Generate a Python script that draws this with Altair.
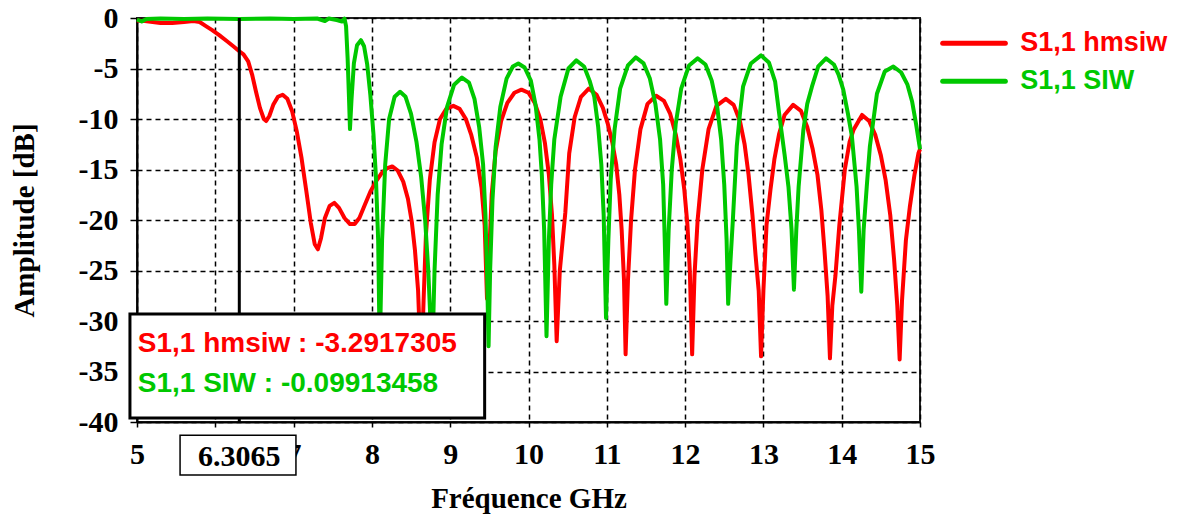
import altair as alt
import pandas as pd

SERIES = ["S1,1 hmsiw", "S1,1 SIW"]
COLORS = ["#ff0000", "#00c800"]

X_TICKS = [5, 6, 7, 8, 9, 10, 11, 12, 13, 14, 15]
Y_TICKS = [0, -5, -10, -15, -20, -25, -30, -35, -40]

# S1,1 hmsiw (red)
HMSIW_F = [5.00, 5.10, 5.20, 5.30, 5.45, 5.60, 5.72, 5.80, 5.88, 5.96, 6.05, 6.15, 6.23, 6.3065,
           6.36, 6.42, 6.47, 6.52, 6.57, 6.62, 6.65, 6.69, 6.74, 6.80, 6.86, 6.92, 6.98, 7.04,
           7.10, 7.16, 7.22, 7.27, 7.31, 7.35, 7.40, 7.46, 7.52, 7.58, 7.65, 7.72, 7.78, 7.84,
           7.91, 7.98, 8.05, 8.12, 8.19, 8.26, 8.33, 8.40, 8.46, 8.51, 8.55, 8.59, 8.63, 8.66,
           8.69, 8.74, 8.80, 8.87, 8.95, 9.04, 9.12, 9.20, 9.27, 9.34, 9.40, 9.44, 9.47, 9.50,
           9.53, 9.58, 9.65, 9.73, 9.82, 9.91, 10.00, 10.08, 10.15, 10.21, 10.26, 10.30, 10.33,
           10.36, 10.40, 10.47, 10.52, 10.59, 10.67, 10.77, 10.87, 10.95, 11.01, 11.07, 11.12,
           11.16, 11.19, 11.22, 11.24, 11.27, 11.31, 11.36, 11.43, 11.52, 11.63, 11.73, 11.81,
           11.88, 11.94, 11.99, 12.03, 12.06, 12.09, 12.12, 12.16, 12.22, 12.30, 12.40, 12.52,
           12.62, 12.70, 12.76, 12.81, 12.86, 12.90, 12.94, 12.97, 13.00, 13.04, 13.09, 13.14,
           13.20, 13.27, 13.38, 13.48, 13.56, 13.63, 13.69, 13.74, 13.78, 13.82, 13.85, 13.88,
           13.92, 13.97, 14.04, 14.10, 14.15, 14.26, 14.35, 14.43, 14.50, 14.56, 14.62, 14.67,
           14.71, 14.74, 14.77, 14.82, 14.87, 14.93, 14.98, 15.00]
HMSIW_DB = [-0.25, -0.3, -0.4, -0.5, -0.5, -0.4, -0.3, -0.4, -0.8, -1.2, -1.7, -2.3, -2.8, -3.29,
            -3.6, -4.3, -5.6, -7.3, -8.9, -10.0, -10.2, -9.7, -8.6, -7.8, -7.6, -8.0, -9.2, -11.2,
            -13.8, -17.0, -20.3, -22.4, -22.9, -21.8, -19.8, -18.6, -18.3, -18.8, -19.8, -20.4, -20.4, -19.8,
            -18.5, -17.2, -16.2, -15.4, -14.9, -14.7, -15.1, -16.2, -17.9, -20.2, -23.0, -27.0, -35.5, -28.0,
            -21.5, -16.0, -12.3, -10.0, -9.0, -8.7, -9.0, -10.0, -11.6, -13.8, -16.8, -20.5, -27.8, -23.0,
            -17.5, -13.2, -10.2, -8.4, -7.4, -7.1, -7.4, -8.4, -10.0, -12.4, -15.5, -19.5, -24.5,
            -32.0, -25.0, -19.3, -13.4, -9.8, -7.8, -7.0, -7.6, -8.9, -10.4, -12.3, -14.5,
            -17.5, -21.0, -26.0, -33.3, -26.0, -20.0, -15.0, -11.0, -8.5, -7.7, -8.2, -9.5,
            -11.5, -14.0, -17.0, -20.5, -25.0, -33.3, -25.5, -20.0, -15.0, -11.0, -8.7, -8.0,
            -8.6, -10.2, -12.5, -15.5, -19.5, -23.5, -27.0, -33.5, -27.0, -20.5, -17.0, -14.0,
            -11.5, -9.6, -8.6, -9.2, -10.8, -13.0, -15.5, -19.0, -23.0, -27.5, -33.7, -28.5,
            -25.5, -20.5, -15.0, -12.3, -11.1, -9.6, -10.2, -11.6, -13.6, -16.0, -19.5, -24.0,
            -28.5, -33.8, -28.0, -22.0, -18.7, -15.5, -13.4, -13.0]

# S1,1 SIW (green)
SIW_F = [5.00, 5.06, 5.12, 5.30, 5.60, 5.90, 6.3065, 6.70, 7.00, 7.30, 7.40, 7.45, 7.55, 7.62,
         7.65, 7.67, 7.69, 7.71, 7.72, 7.74, 7.77, 7.81, 7.86, 7.90, 7.94, 7.98, 8.02, 8.05,
         8.08, 8.10, 8.13, 8.17, 8.22, 8.29, 8.36, 8.43, 8.50, 8.57, 8.63, 8.68, 8.72, 8.77,
         8.80, 8.84, 8.89, 8.96, 9.05, 9.15, 9.24, 9.31, 9.37, 9.42, 9.45, 9.47, 9.49, 9.51,
         9.54, 9.58, 9.64, 9.72, 9.80, 9.87, 9.95, 10.03, 10.09, 10.14, 10.17, 10.20, 10.23,
         10.26, 10.29, 10.33, 10.41, 10.51, 10.61, 10.71, 10.78, 10.84, 10.89, 10.93, 10.96,
         10.99, 11.02, 11.05, 11.10, 11.17, 11.27, 11.37, 11.47, 11.55, 11.62, 11.68, 11.72,
         11.74, 11.76, 11.79, 11.83, 11.88, 11.95, 12.05, 12.16, 12.26, 12.34, 12.41, 12.46,
         12.50, 12.53, 12.55, 12.58, 12.61, 12.66, 12.70, 12.74, 12.84, 12.97, 13.07, 13.15,
         13.21, 13.27, 13.32, 13.36, 13.39, 13.42, 13.45, 13.51, 13.56, 13.62, 13.70, 13.80,
         13.90, 13.96, 14.02, 14.08, 14.13, 14.19, 14.22, 14.25, 14.28, 14.32, 14.36, 14.45,
         14.55, 14.66, 14.76, 14.84, 14.90, 14.95, 15.00]
SIW_DB = [-0.15, -0.35, -0.1, -0.05, -0.1, -0.05, -0.1, -0.05, -0.1, -0.05, -0.3, -0.05, -0.2, -0.35,
          -0.05, -0.8, -4.0, -8.5, -11.0, -8.0, -4.5, -2.7, -2.2, -2.8, -4.6, -7.6, -11.5, -15.5,
          -22.0, -33.0, -22.0, -14.5, -10.0, -7.8, -7.3, -7.8, -9.5, -12.3, -15.8, -20.0, -25.0, -34.0,
          -25.0, -17.5, -12.5, -8.8, -6.6, -5.9, -6.4, -8.0, -10.8, -14.5, -19.5, -25.0, -32.5, -25.0,
          -18.0, -12.8, -8.8, -6.0, -4.8, -4.5, -4.9, -6.2, -8.6, -12.0, -15.5, -21.0, -31.5,
          -22.0, -16.5, -12.0, -7.8, -5.0, -4.2, -4.8, -6.2, -7.8, -10.8, -14.5, -19.5,
          -29.7, -22.0, -16.0, -11.0, -7.0, -4.7, -3.9, -4.5, -6.0, -8.5, -12.0, -16.5,
          -22.0, -28.3, -21.0, -15.0, -10.5, -7.0, -4.7, -4.0, -4.6, -6.2, -8.8, -12.0,
          -16.5, -22.0, -28.3, -24.0, -20.0, -12.7, -9.5, -6.8, -4.5, -3.7, -4.4, -6.3,
          -10.0, -13.5, -16.7, -21.0, -26.9, -21.0, -16.7, -11.1, -8.5, -6.8, -4.8, -4.0,
          -4.6, -5.6, -7.1, -9.5, -11.7, -16.7, -21.0, -27.1, -21.0, -16.7, -12.7, -7.5,
          -5.3, -4.8, -5.4, -6.6, -8.3, -10.5, -13.0]

MARKER_F = 6.3065
MARKER_LABEL = "6.3065"
READOUT_VALUES = ["-3.2917305", "-0.09913458"]

SERIF = "Liberation Serif"
SANS = "Liberation Sans"

# ---------------------------------------------------------------- tables
lines_df = pd.concat([
    pd.DataFrame({"f": HMSIW_F, "db": HMSIW_DB, "series": SERIES[0]}),
    pd.DataFrame({"f": SIW_F, "db": SIW_DB, "series": SERIES[1]}),
])
lines_df["order"] = range(len(lines_df))

marker_df = pd.DataFrame({"f": [MARKER_F], "db": [Y_TICKS[0]], "db2": [Y_TICKS[-1]]})

# annotation placement (in data units)
readout_box = pd.DataFrame({"f": [4.91], "f2": [9.44], "db": [-29.3], "db2": [-39.6]})
readout_txt = pd.DataFrame({
    "f": [5.01, 5.01],
    "db": [-33.1, -37.0],
    "series": SERIES,
    "label": [f"{s} : {v}" for s, v in zip(SERIES, READOUT_VALUES)],
})
xbox_df = pd.DataFrame({"f": [5.55], "f2": [7.03], "db": [-41.3], "db2": [-45.25]})
xbox_txt = pd.DataFrame({"f": [MARKER_F], "db": [-44.4], "label": [MARKER_LABEL]})
legend_line = pd.DataFrame({"f": [15.29, 15.29], "f2": [16.09, 16.09],
                            "db": [-2.5, -6.25], "series": SERIES})
legend_txt = pd.DataFrame({"f": [16.28, 16.28], "db": [-2.5, -6.25], "series": SERIES})

xs = alt.Scale(domain=[5, 15], nice=False, zero=False)
ys = alt.Scale(domain=[-40, 0], nice=False, zero=False)
cs = alt.Scale(domain=SERIES, range=COLORS)

x_axis = alt.Axis(
    values=X_TICKS, title="Fréquence GHz", labelExpr="'' + datum.value",
    grid=True, gridColor="black", gridDash=[5, 4], gridWidth=1.5, gridOpacity=1,
    domainColor="black", domainWidth=2, tickColor="black", tickSize=5, tickWidth=1.5,
    labelFont=SERIF, labelFontSize=30, labelFontWeight="bold", labelColor="black",
    labelPadding=12, labelFlush=False, labelOverlap=False,
    titleFont=SERIF, titleFontSize=29, titleFontWeight="bold", titleColor="black",
    titleY=85, titleBaseline="alphabetic", zindex=0,
)
y_axis = alt.Axis(
    values=Y_TICKS, title="Amplitude [dB]", labelExpr="'' + datum.value",
    grid=True, gridColor="black", gridDash=[5, 4], gridWidth=1.5, gridOpacity=1,
    domainColor="black", domainWidth=2, tickColor="black", tickSize=7, tickWidth=1.5,
    labelFont=SERIF, labelFontSize=30, labelFontWeight="bold", labelColor="black",
    labelPadding=12, labelFlush=False, labelOverlap=False,
    titleFont=SERIF, titleFontSize=29, titleFontWeight="bold", titleColor="black",
    titleX=-113, titleBaseline="middle", zindex=0,
)

lines = alt.Chart(lines_df).mark_line(strokeWidth=4, strokeJoin="round").encode(
    x=alt.X("f:Q", scale=xs, axis=x_axis),
    y=alt.Y("db:Q", scale=ys, axis=y_axis),
    color=alt.Color("series:N", scale=cs, legend=None),
    order="order:Q",
)

marker = alt.Chart(marker_df).mark_rule(color="black", strokeWidth=3).encode(
    x="f:Q", y="db:Q", y2="db2:Q")

rbox = alt.Chart(readout_box).mark_rect(fill="white", stroke="black", strokeWidth=3).encode(
    x="f:Q", x2="f2:Q", y="db:Q", y2="db2:Q")

rtxt = alt.Chart(readout_txt).mark_text(
    align="left", baseline="alphabetic", font=SANS, fontSize=28, fontWeight="bold"
).encode(x="f:Q", y="db:Q", text="label:N",
         color=alt.Color("series:N", scale=cs, legend=None))

xbox = alt.Chart(xbox_df).mark_rect(fill="white", stroke="black", strokeWidth=1.5).encode(
    x="f:Q", x2="f2:Q", y="db:Q", y2="db2:Q")

xtxt = alt.Chart(xbox_txt).mark_text(
    align="center", baseline="alphabetic", font=SERIF, fontSize=30, fontWeight="bold", color="black"
).encode(x="f:Q", y="db:Q", text="label:N")

leg_l = alt.Chart(legend_line).mark_rule(strokeWidth=5, strokeCap="round").encode(
    x="f:Q", x2="f2:Q", y="db:Q",
    color=alt.Color("series:N", scale=cs, legend=None))

leg_t = alt.Chart(legend_txt).mark_text(
    align="left", baseline="middle", font=SANS, fontSize=27, fontWeight="bold"
).encode(x="f:Q", y="db:Q", text="series:N",
         color=alt.Color("series:N", scale=cs, legend=None))

chart = alt.layer(lines, marker, rbox, rtxt, xbox, xtxt, leg_l, leg_t).properties(
    width=783, height=404,
    autosize=alt.AutoSizeParams(type="none"),
    padding={"left": 129, "top": 10, "right": 250, "bottom": 92},
    background="white",
).configure_view(stroke="#222", strokeWidth=2)

chart.save("out.html", embed_options={"renderer": "svg", "actions": False})
